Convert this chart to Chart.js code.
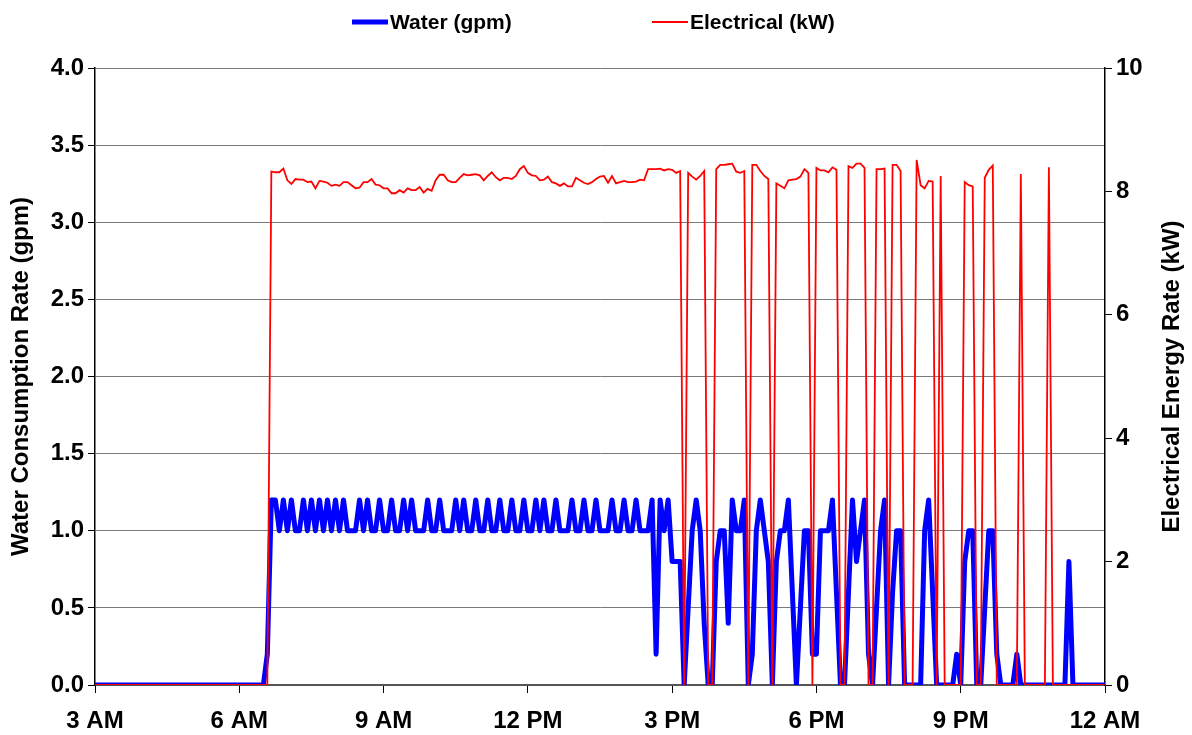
<!DOCTYPE html>
<html><head><meta charset="utf-8">
<script src="https://cdn.jsdelivr.net/npm/chart.js@4.4.1/dist/chart.umd.min.js"></script>
<style>html,body{margin:0;padding:0;background:#fff;} #wrap{width:1192px;height:735px;}</style>
</head><body><div id="wrap"><canvas id="c" width="1192" height="735"></canvas></div>
<script>
// x axis: hours from 3 AM (3) to midnight (24), one sample every 5 minutes
const tickLabels = ['3 AM','6 AM','9 AM','12 PM','3 PM','6 PM','9 PM','12 AM'];
const startHour = 3;
const stepMinutes = 5;

// Water (gpm), one row per hour (12 samples)
const water = [
 0,0,0,0,0,0,0,0,0,0,0,0,
 0,0,0,0,0,0,0,0,0,0,0,0,
 0,0,0,0,0,0,0,0,0,0,0,0,
 0,0,0,0,0,0,0,0.2,1.2,1.2,1.0,1.2,
 1.0,1.2,1.0,1.0,1.2,1.0,1.2,1.0,1.2,1.0,1.2,1.0,
 1.2,1.0,1.2,1.0,1.0,1.0,1.2,1.0,1.2,1.0,1.0,1.2,
 1.0,1.0,1.2,1.0,1.0,1.2,1.0,1.2,1.0,1.0,1.0,1.2,
 1.0,1.0,1.2,1.0,1.0,1.0,1.2,1.0,1.2,1.0,1.0,1.2,
 1.0,1.0,1.2,1.0,1.0,1.2,1.0,1.0,1.2,1.0,1.0,1.2,
 1.0,1.0,1.2,1.0,1.2,1.0,1.0,1.2,1.0,1.0,1.0,1.2,
 1.0,1.0,1.2,1.0,1.0,1.2,1.0,1.0,1.0,1.2,1.0,1.0,
 1.2,1.0,1.0,1.2,1.0,1.0,1.0,1.2,0.2,1.2,1.0,1.2,
 0.8,0.8,0.8,0,0.5,1.0,1.2,1.0,0.4,0,0,0.8,
 1.0,1.0,0.4,1.2,1.0,1.0,1.2,0,0.2,1.0,1.2,1.0,
 0.8,0,0.8,1.0,1.0,1.2,0.6,0,0.5,1.0,1.0,0.2,
 0.2,1.0,1.0,1.0,1.2,0.6,0,0,0.6,1.2,0.8,1.0,
 1.2,0.2,0,0.5,1.0,1.2,0,0.6,1.0,1.0,0,0,
 0,0,0,1.0,1.2,0.6,0,0,0,0,0,0.2,
 0,0.8,1.0,1.0,0,0,0.5,1.0,1.0,0.2,0,0,
 0,0,0.2,0,0,0,0,0,0,0,0,0,
 0,0,0,0.8,0,0,0,0,0,0,0,0,
 0
];

// Electrical (kW), one row per hour (12 samples)
const electrical = [
 0,0,0,0,0,0,0,0,0,0,0,0,
 0,0,0,0,0,0,0,0,0,0,0,0,
 0,0,0,0,0,0,0,0,0,0,0,0,
 0,0,0,0,0,0,0,0,8.32,8.31,8.31,8.37,
 8.18,8.12,8.20,8.19,8.19,8.15,8.16,8.05,8.17,8.16,8.14,8.09,
 8.11,8.09,8.15,8.15,8.10,8.05,8.06,8.15,8.15,8.20,8.11,8.10,
 8.05,8.05,7.97,7.97,8.02,7.98,8.05,8.02,8.02,8.07,7.98,8.04,
 8.01,8.18,8.27,8.27,8.18,8.15,8.15,8.22,8.28,8.26,8.27,8.28,
 8.26,8.18,8.25,8.31,8.23,8.18,8.22,8.22,8.20,8.25,8.36,8.41,
 8.30,8.26,8.25,8.18,8.19,8.24,8.15,8.13,8.09,8.13,8.08,8.08,
 8.22,8.18,8.14,8.12,8.15,8.20,8.24,8.25,8.14,8.25,8.13,8.15,
 8.17,8.15,8.15,8.16,8.19,8.18,8.36,8.36,8.36,8.37,8.34,8.36,
 8.35,8.30,8.33,0,8.30,8.24,8.19,8.25,8.33,0,0,8.36,
 8.43,8.43,8.44,8.45,8.32,8.30,8.33,0,8.43,8.43,8.33,8.25,
 8.20,0,8.13,8.09,8.05,8.18,8.19,8.20,8.24,8.36,8.30,0,
 8.38,8.34,8.34,8.31,8.39,8.35,0,0,8.41,8.38,8.45,8.45,
 8.38,0,0,8.36,8.36,8.37,0,8.43,8.43,8.33,0,0,
 0,8.51,8.10,8.05,8.17,8.16,0,8.25,0,0,0,0,
 0,8.15,8.10,8.08,0,0,8.22,8.35,8.42,0,0,0,
 0,0,0,8.28,0,0,0,0,0,0,8.39,0,
 0,0,0,0,0,0,0,0,0,0,0,0,
 0
];

const waterTicks = [0,0.5,1,1.5,2,2.5,3,3.5,4];
const elecTicks = [0,2,4,6,8,10];

const toPoints = arr => arr.map((v, i) => ({x: startHour + i * stepMinutes / 60, y: v}));

const FONT = '"Liberation Sans", Arial, Helvetica, sans-serif';
Chart.defaults.font.family = FONT;
Chart.defaults.color = '#000';

const customDraw = {
  id: 'customDraw',
  afterDraw(chart) {
    const ctx = chart.ctx;
    const ds = chart.data.datasets;
    ctx.save();
    ctx.font = 'bold 21px ' + FONT;
    ctx.textBaseline = 'middle';
    ctx.textAlign = 'left';
    ctx.fillStyle = '#000';
    const items = [{x: 352, ds: ds[0]}, {x: 652, ds: ds[1]}];
    items.forEach(it => {
      ctx.strokeStyle = it.ds.borderColor;
      ctx.lineWidth = it.ds.borderWidth;
      ctx.lineCap = 'butt';
      ctx.beginPath(); ctx.moveTo(it.x, 22); ctx.lineTo(it.x + 36, 22); ctx.stroke();
      ctx.fillText(it.ds.label, it.x + 38, 23);
    });
    // right axis title, reading bottom-to-top
    const area = chart.chartArea;
    ctx.font = 'bold 24px ' + FONT;
    ctx.translate(1172, (area.top + area.bottom) / 2);
    ctx.rotate(-Math.PI / 2);
    ctx.textAlign = 'center';
    ctx.fillText('Electrical Energy Rate (kW)', 0, 0);
    ctx.restore();
  }
};

new Chart(document.getElementById('c'), {
  type: 'line',
  data: {
    datasets: [
      {label: 'Water (gpm)', data: toPoints(water), yAxisID: 'y', borderColor: '#0000ff', borderWidth: 5,
       pointRadius: 0, tension: 0, borderJoinStyle: 'round', order: 1, clip: 0},
      {label: 'Electrical (kW)', data: toPoints(electrical), yAxisID: 'y2', borderColor: '#ff0000', borderWidth: 1.8,
       pointRadius: 0, tension: 0, order: 0, clip: 0}
    ]
  },
  options: {
    responsive: false,
    animation: false,
    devicePixelRatio: 1,
    layout: {padding: {top: 68, left: 0, right: 0, bottom: 0}},
    plugins: {legend: {display: false}, tooltip: {enabled: false}},
    scales: {
      x: {
        type: 'linear', min: 3, max: 24,
        afterFit: s => { s.height = 50; },
        afterBuildTicks: s => { s.ticks = tickLabels.map((_, k) => ({value: startHour + 3 * k})); },
        ticks: {callback: (v) => tickLabels[Math.round((v - startHour) / 3)], font: {size: 24, weight: 'bold'}, padding: 14, maxRotation: 0, autoSkip: false},
        grid: {drawOnChartArea: false, drawTicks: true, tickLength: 8, color: '#000', tickColor: '#000'},
        border: {display: true, color: '#555', width: 2}
      },
      y: {
        position: 'left', min: 0, max: 4,
        afterFit: s => { s.width = 95; },
        afterBuildTicks: s => { s.ticks = waterTicks.map(v => ({value: v})); },
        ticks: {callback: v => v.toFixed(1), font: {size: 24, weight: 'bold'}, padding: 4},
        grid: {color: '#7a7a7a', lineWidth: 1, tickLength: 7, tickColor: '#000', drawTicks: true},
        border: {display: true, color: '#000', width: 1.5},
        title: {display: true, text: 'Water Consumption Rate (gpm)', font: {size: 24, weight: 'bold'}, padding: {top: 7, bottom: 0}}
      },
      y2: {
        position: 'right', min: 0, max: 10,
        afterFit: s => { s.width = 87; },
        afterBuildTicks: s => { s.ticks = elecTicks.map(v => ({value: v})); },
        ticks: {callback: v => String(v), font: {size: 24, weight: 'bold'}, padding: 4},
        grid: {drawOnChartArea: false, tickLength: 7, tickColor: '#000', color: '#000'},
        border: {display: true, color: '#000', width: 1.5}
      }
    }
  },
  plugins: [customDraw]
});
</script>
</body></html>
